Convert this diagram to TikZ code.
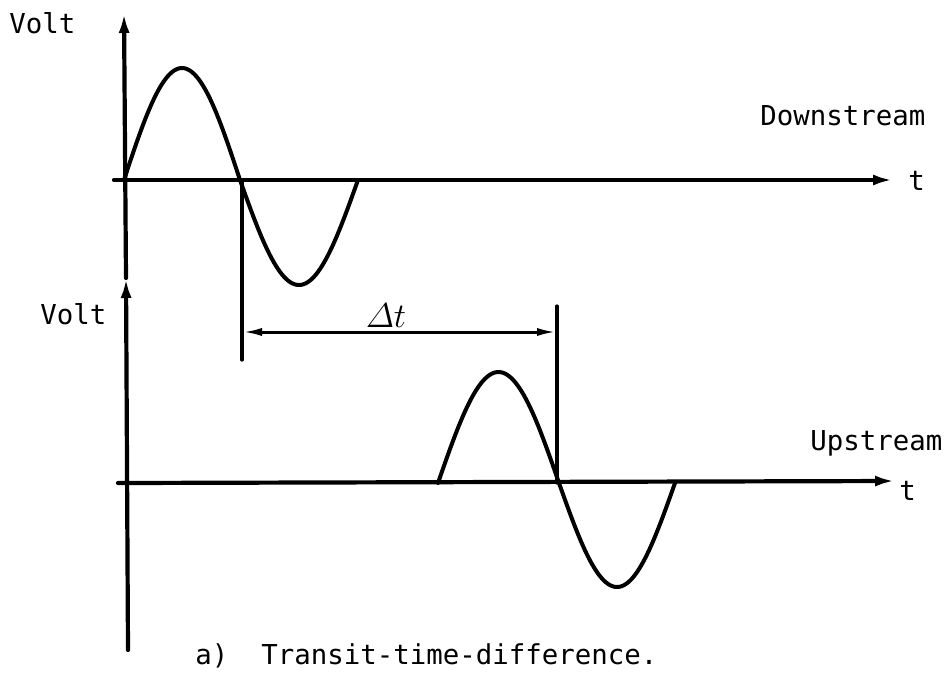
\documentclass[tikz,border=0pt]{standalone}
\usepackage{amsmath}
\usepackage{fontspec}
\setmonofont{DejaVu Sans Mono}
\usetikzlibrary{arrows.meta}
\begin{document}
\begin{tikzpicture}[x=0.5pt,y=-0.5pt,
  ln/.style={line width=2.1pt, line cap=round},
  thin/.style={line width=1.6pt, line cap=round},
  wave/.style={line width=2pt, line join=round, line cap=round},
  axarrow/.style={-{Latex[length=10pt,width=5.5pt]}},
  dim/.style={line width=1.5pt, {Latex[length=10pt,width=4pt]}-{Latex[length=10pt,width=4pt]}},
  lbl/.style={font=\fontsize{13.7}{16}\selectfont\ttfamily, anchor=base west, inner sep=0pt},
]
\useasboundingbox (0,0) rectangle (947,676);
% named points
\coordinate (vtop) at (124,13);
\coordinate (vmid) at (126,278);
\coordinate (vbot) at (128,650);
\coordinate (h1s) at (114,180);
\coordinate (h1e) at (893,180);
\coordinate (h2s) at (118,483);
\coordinate (h2e) at (895,481);
\coordinate (d1top) at (242,180);
\coordinate (d1bot) at (242,360);
\coordinate (d2top) at (557,306);
\coordinate (d2bot) at (557,483);
\coordinate (a1) at (242,332);
\coordinate (a2) at (557,332);
% axes
\draw[ln,axarrow] (vbot) -- (vmid);
\draw[ln,axarrow] (vmid) -- (vtop);
\draw[ln,axarrow] (h1s) -- (h1e);
\draw[ln,axarrow] (h2s) -- (h2e);
% reference lines
\draw[thin] (d1top) -- (d1bot);
\draw[thin] (d2top) -- (d2bot);
\draw[dim] (a1) -- (a2);
% waves
\draw[wave] plot[domain=0:180,samples=60] ({124+0.64444*\x},{180-112*sin(\x)})
            -- plot[domain=0:180,samples=60] ({240+0.65556*\x},{180+105*sin(\x)});
\draw[wave] plot[domain=0:180,samples=60] ({438+0.67222*\x},{483-111*sin(\x)})
            -- plot[domain=0:180,samples=60] ({559+0.64444*\x},{483+104*sin(\x)});
% labels
\node[lbl] (volt1) at (9,33) {Volt};
\node[lbl] (volt2) at (40,324) {Volt};
\node[lbl] (down) at (760,125) {Downstream};
\node[lbl] (t1) at (908,190) {t};
\node[lbl] (up) at (810,450) {Upstream};
\node[lbl] (t2) at (899,500) {t};
\node[anchor=base, inner sep=0pt, font=\fontsize{16}{17}\selectfont] (dt) at (386,327) {$\varDelta t$};
\node[lbl] (cap) at (195,664) {a)\ \ Transit-time-difference.};
\end{tikzpicture}
\end{document}
